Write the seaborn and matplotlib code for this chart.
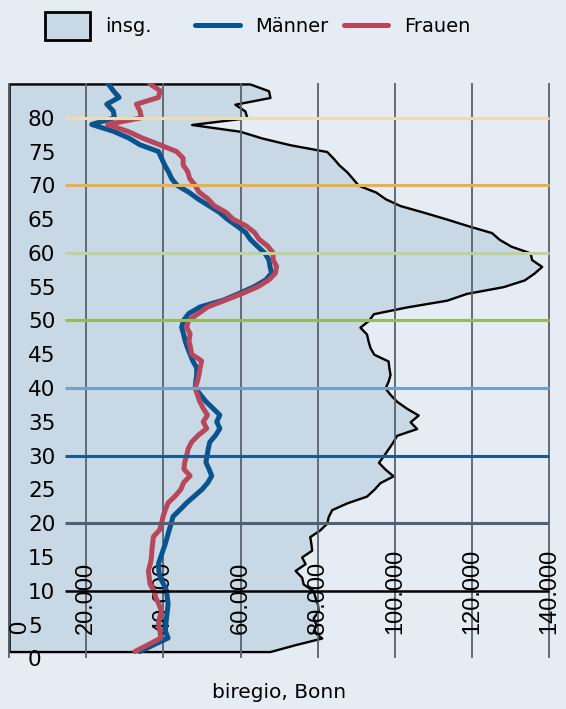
import numpy as np
import pandas as pd
import seaborn as sns
import matplotlib.pyplot as plt
from matplotlib.patches import Patch
from matplotlib.lines import Line2D

# Altersjahre (Position auf der y-Achse) und Einwohner in Tausend
alter = list(range(1, 86))

maenner = [33.9, 37.5, 41.2, 40.5, 40.6, 40.8, 41.0, 41.2, 41.0, 40.8,
           40.0, 39.1, 38.8, 38.7, 39.3, 39.9, 40.5, 41.0, 41.5, 42.0,
           42.5, 44.3, 46.0, 48.0, 50.0, 51.5, 52.5, 51.8, 51.0, 51.3,
           51.6, 52.0, 53.5, 54.6, 53.8, 54.6, 52.8, 51.0, 49.6, 48.2,
           48.4, 48.6, 48.6, 47.6, 46.9, 46.2, 45.6, 45.2, 44.7, 45.2,
           46.5, 49.5, 55.5, 59.6, 63.5, 66.5, 68.0, 67.6, 67.3, 66.2,
           64.3, 62.5, 61.3, 59.0, 56.5, 54.5, 51.7, 48.9, 46.5, 43.5,
           42.1, 41.3, 40.3, 39.5, 38.7, 33.9, 31.0, 27.0, 21.4, 27.3,
           27.0, 25.3, 28.5, 27.0, 25.7]

frauen = [32.6, 36.0, 39.3, 39.1, 38.7, 39.0, 39.5, 38.8, 38.0, 37.5,
          36.5, 36.3, 36.1, 36.6, 36.9, 37.0, 37.2, 37.4, 39.0, 39.5,
          39.9, 40.5, 41.2, 43.0, 44.5, 45.2, 46.9, 45.3, 45.5, 46.0,
          46.4, 47.3, 49.0, 51.2, 50.3, 51.4, 50.3, 49.4, 48.8, 48.2,
          48.8, 49.2, 49.5, 49.9, 47.3, 47.0, 46.6, 46.9, 46.0, 46.5,
          49.0, 51.5, 56.0, 60.5, 64.5, 67.3, 69.0, 69.3, 68.4, 68.4,
          67.0, 64.8, 63.6, 61.4, 58.0, 56.2, 53.1, 51.5, 49.2, 48.2,
          46.8, 46.3, 45.1, 45.1, 43.4, 39.0, 34.5, 30.7, 25.5, 34.3,
          33.9, 33.0, 38.7, 39.1, 36.5]

insg = [67.6, 74.0, 81.0, 78.8, 79.5, 78.8, 80.1, 79.9, 79.3, 78.8,
        76.2, 75.8, 74.1, 76.7, 75.8, 78.4, 78.2, 77.9, 80.5, 82.3,
        82.7, 83.6, 87.5, 92.6, 94.5, 96.1, 99.5, 97.4, 95.7, 97.0,
        98.2, 99.4, 100.4, 105.6, 103.9, 106.0, 103.0, 100.5, 98.8, 97.4,
        98.2, 98.7, 98.4, 98.2, 94.5, 93.5, 93.0, 92.6, 90.9, 93.1,
        94.4, 103.0, 113.4, 118.5, 128.0, 133.5, 136.0, 138.0, 135.4, 135.0,
        130.0, 127.0, 125.0, 119.0, 113.4, 107.5, 101.3, 97.5, 95.0, 90.5,
        89.0, 87.5, 85.5, 84.0, 82.3, 72.8, 65.5, 59.8, 47.3, 61.6,
        61.1, 58.5, 67.6, 67.2, 62.4]

x_ticks = [0, 20, 40, 60, 80, 100, 120, 140]
x_labels = ['0', '20.000', '40.000', '60.000', '80.000', '100.000', '120.000', '140.000']
y_ticks = list(range(0, 81, 5))

# Markierungslinien je Jahrzehnt
dekaden = [10, 20, 30, 40, 50, 60, 70, 80]
dekaden_farben = ['#000000', '#4f6275', '#175a96', '#6ea2cd',
                  '#96b964', '#bed39b', '#e7b24e', '#f2dcaa']

bg = '#e5ecf3'
fill = '#c8d9e5'
farben = {'Männer': '#09548f', 'Frauen': '#b8475b'}

sns.set_theme(style='white')
plt.rcParams['font.family'] = ['DejaVu Sans']
plt.rcParams['text.color'] = 'black'
plt.rcParams['ytick.color'] = 'black'
plt.rcParams['xtick.color'] = 'black'

fig = plt.figure(figsize=(5.66, 7.09), dpi=100, facecolor=bg)
ax = fig.add_axes([7.56 / 566, 1 - 658.3 / 709, 543.4 / 566, 575.7 / 709])
ax.set_facecolor(bg)

ax.fill_betweenx(alter, 0, insg, facecolor=fill, edgecolor='black', lw=1.7, zorder=1)

df = pd.DataFrame({
    'alter': alter * 2,
    'wert': maenner + frauen,
    'gruppe': ['Männer'] * len(alter) + ['Frauen'] * len(alter),
})
sns.lineplot(data=df, x='wert', y='alter', hue='gruppe', palette=farben,
             orient='y', estimator=None, lw=3.6, legend=False, ax=ax, zorder=3)

for d, c in zip(dekaden, dekaden_farben):
    ax.hlines(d, 14.5, 140, color=c, lw=2.2 if d != 10 else 1.8, zorder=4)

ax.set_xlim(-0.4, 140.4)
ax.set_ylim(0, 85.2)
ax.set_xlabel('')
ax.set_ylabel('')
ax.set_xticks(x_ticks)
ax.set_xticklabels([])
ax.grid(True, axis='x', color='#59626c', lw=1.3)
ax.grid(False, axis='y')
ax.set_axisbelow('line')
sns.despine(ax=ax, left=True, bottom=True)

ax.set_yticks(y_ticks)
ax.set_yticklabels([str(v) for v in y_ticks], fontsize=15.5, color='black')
ax.tick_params(axis='both', length=0)
ax.tick_params(axis='y', pad=-14.7)
for lab in ax.get_yticklabels():
    lab.set_horizontalalignment('left')
    lab.set_zorder(5)

# x-Beschriftung gedreht innerhalb der Grafik
for xv, xl in zip(x_ticks, x_labels):
    ax.text(xv, 3.6, xl, rotation=90, ha='left' if xv == 0 else 'center', va='bottom',
            fontsize=17, color='black', family=['Liberation Sans', 'DejaVu Sans'], zorder=2.5)

leg1 = fig.legend(handles=[Patch(facecolor=fill, edgecolor='black', lw=2, label='insg.')],
                  loc='center left', bbox_to_anchor=(45 / 566, 1 - 26 / 709),
                  frameon=False, fontsize=14, handlelength=2.3, handleheight=1.9,
                  handletextpad=0.8, borderpad=0, borderaxespad=0)
leg2 = fig.legend(handles=[Line2D([], [], color=farben['Männer'], lw=3.6, label='Männer'),
                           Line2D([], [], color=farben['Frauen'], lw=3.6, label='Frauen')],
                  loc='center left', bbox_to_anchor=(195 / 566, 1 - 26 / 709),
                  frameon=False, fontsize=14, ncol=2, handlelength=2.3,
                  handletextpad=0.8, columnspacing=0.77, borderpad=0, borderaxespad=0)
for leg in (leg1, leg2):
    for t in leg.get_texts():
        t.set_color('black')

fig.text(279 / 566, 1 - 692 / 709, 'biregio, Bonn', ha='center', va='center',
         fontsize=14.5, color='black')

fig.savefig('out.png', dpi=100, facecolor=bg)
